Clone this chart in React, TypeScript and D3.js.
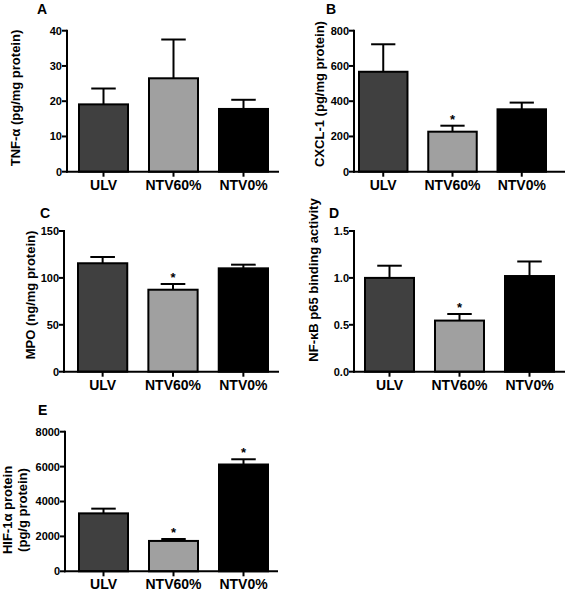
import React from "react";
import * as d3 from "d3";

const categories = ["ULV", "NTV60%", "NTV0%"];
const barColors = ["#404040", "#a0a0a0", "#000000"];

const tnfValues = [19.1, 26.5, 17.8];
const tnfErrors = [4.5, 11.0, 2.6];
const tnfTicks = [0, 10, 20, 30, 40];
const tnfStars = [false, false, false];

const cxclValues = [567, 227, 354];
const cxclErrors = [156, 34, 38];
const cxclTicks = [0, 200, 400, 600, 800];
const cxclStars = [false, true, false];

const mpoValues = [115.6, 87.4, 110.2];
const mpoErrors = [6.7, 6.1, 3.9];
const mpoTicks = [0, 50, 100, 150];
const mpoStars = [false, true, false];

const nfkbValues = [1.0, 0.545, 1.02];
const nfkbErrors = [0.13, 0.07, 0.155];
const nfkbTicks = [0, 0.5, 1.0, 1.5];
const nfkbStars = [false, true, false];

const hifValues = [3320, 1740, 6120];
const hifErrors = [270, 110, 300];
const hifTicks = [0, 2000, 4000, 6000, 8000];
const hifStars = [false, true, true];

const FONT = "'Liberation Sans', Arial, Helvetica, sans-serif";

type PanelProps = {
  letter: string;
  letterX: number;
  letterY: number;
  axisX: number;
  axisEnd: number;
  barLeft: number;
  barRight: number;
  yTop: number;
  yBottom: number;
  values: number[];
  errors: number[];
  ticks: number[];
  stars: boolean[];
  tickFormat: (v: number) => string;
  titleLines: string[];
  titleX: number;
  titleY: number;
};

function Panel(p: PanelProps) {
  const maxT = p.ticks[p.ticks.length - 1];
  const y = d3.scaleLinear().domain([0, maxT]).range([p.yBottom, p.yTop]);
  const x = d3
    .scaleBand<string>()
    .domain(categories)
    .range([p.barLeft, p.barRight])
    .paddingInner(0.3)
    .paddingOuter(0);
  const bw = x.bandwidth();
  return (
    <g>
      <text x={p.letterX} y={p.letterY} fontFamily={FONT} fontWeight="bold" fontSize={14}>
        {p.letter}
      </text>
      {/* y title */}
      <text
        transform={`translate(${p.titleX},${p.titleY}) rotate(-90)`}
        textAnchor="middle"
        fontFamily={FONT}
        fontWeight="bold"
        fontSize={13}
      >
        {p.titleLines.map((t, i) => (
          <tspan key={i} x={0} dy={i === 0 ? -(p.titleLines.length - 1) * 7.5 : 15}>
            {t}
          </tspan>
        ))}
      </text>
      {/* bars */}
      {categories.map((c, i) => {
        const x0 = x(c)!;
        const cx = x0 + bw / 2;
        const top = y(p.values[i]);
        const errTop = y(p.values[i] + p.errors[i]);
        return (
          <g key={c}>
            <line x1={cx} x2={cx} y1={top} y2={errTop} stroke="#000" strokeWidth={2} />
            <line x1={cx - bw / 4} x2={cx + bw / 4} y1={errTop} y2={errTop} stroke="#000" strokeWidth={2} />
            <rect
              x={x0}
              y={top}
              width={bw}
              height={p.yBottom - top}
              fill={barColors[i]}
              stroke="#000"
              strokeWidth={2}
            />
            {p.stars[i] && (
              <text
                x={cx}
                y={errTop - 2}
                textAnchor="middle"
                fontFamily={FONT}
                fontWeight="bold"
                fontSize={13}
              >
                *
              </text>
            )}
            <line x1={cx} x2={cx} y1={p.yBottom} y2={p.yBottom + 5} stroke="#000" strokeWidth={2} />
            <text
              x={cx}
              y={p.yBottom + 18}
              textAnchor="middle"
              fontFamily={FONT}
              fontWeight="bold"
              fontSize={14}
            >
              {c}
            </text>
          </g>
        );
      })}
      {/* y axis */}
      <line x1={p.axisX} x2={p.axisX} y1={p.yTop - 1} y2={p.yBottom + 1} stroke="#000" strokeWidth={2} />
      {p.ticks.map((t) => (
        <g key={t}>
          <line x1={p.axisX - 5} x2={p.axisX} y1={y(t)} y2={y(t)} stroke="#000" strokeWidth={2} />
          <text
            x={p.axisX - 5}
            y={y(t)}
            dy="0.36em"
            textAnchor="end"
            fontFamily={FONT}
            fontWeight="bold"
            fontSize={11}
          >
            {p.tickFormat(t)}
          </text>
        </g>
      ))}
      {/* x axis */}
      <line x1={p.axisX - 1} x2={p.axisEnd} y1={p.yBottom} y2={p.yBottom} stroke="#000" strokeWidth={2} />
    </g>
  );
}

const fmtInt = (v: number) => d3.format("d")(v);
const fmt1 = (v: number) => d3.format(".1f")(v);

export default function App() {
  return (
    <svg
      width={567}
      height={591}
      style={{ position: "absolute", left: 0, top: 0, background: "#fff" }}
    >
      <rect width={567} height={591} fill="#fff" />
      <Panel
        letter="A" letterX={37} letterY={14}
        axisX={67} axisEnd={279} barLeft={79} barRight={268}
        yTop={30.7} yBottom={171.7}
        values={tnfValues} errors={tnfErrors} ticks={tnfTicks} stars={tnfStars}
        tickFormat={fmtInt} titleLines={["TNF-α (pg/mg protein)"]} titleX={20} titleY={98}
      />
      <Panel
        letter="B" letterX={326} letterY={14}
        axisX={354} axisEnd={565} barLeft={359} barRight={546}
        yTop={30.7} yBottom={171.7}
        values={cxclValues} errors={cxclErrors} ticks={cxclTicks} stars={cxclStars}
        tickFormat={fmtInt} titleLines={["CXCL-1 (pg/mg protein)"]} titleX={324} titleY={94}
      />
      <Panel
        letter="C" letterX={40} letterY={218}
        axisX={64} axisEnd={279} barLeft={78} barRight={268}
        yTop={231} yBottom={371.7}
        values={mpoValues} errors={mpoErrors} ticks={mpoTicks} stars={mpoStars}
        tickFormat={fmtInt} titleLines={["MPO (ng/mg protein)"]} titleX={35} titleY={295}
      />
      <Panel
        letter="D" letterX={329} letterY={218}
        axisX={354} axisEnd={565} barLeft={365} barRight={554}
        yTop={231} yBottom={371.7}
        values={nfkbValues} errors={nfkbErrors} ticks={nfkbTicks} stars={nfkbStars}
        tickFormat={fmt1} titleLines={["NF-κB p65 binding activity"]} titleX={318} titleY={280}
      />
      <Panel
        letter="E" letterX={38} letterY={415}
        axisX={65} axisEnd={278} barLeft={79} barRight={268}
        yTop={431.7} yBottom={571.3}
        values={hifValues} errors={hifErrors} ticks={hifTicks} stars={hifStars}
        tickFormat={fmtInt} titleLines={["HIF-1α protein", "(pg/g protein)"]} titleX={19} titleY={510}
      />
    </svg>
  );
}
